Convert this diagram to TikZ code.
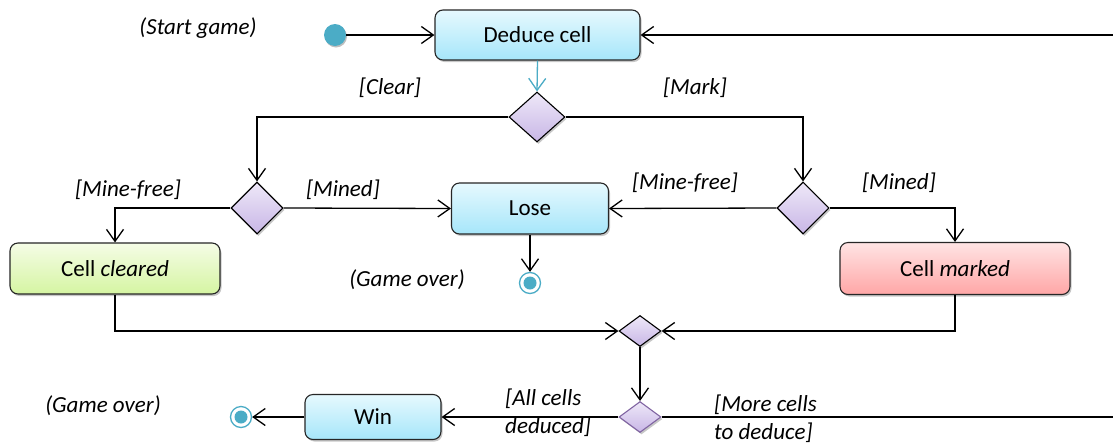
\documentclass[tikz,border=0pt]{standalone}
\usepackage{fontspec}
\setmainfont{Carlito}
\usetikzlibrary{arrows.meta,shapes.geometric,shadows}
\definecolor{teal}{HTML}{4BACC6}
\definecolor{cyanTop}{HTML}{E6F9FE}
\definecolor{cyanBot}{HTML}{A6E6FA}
\definecolor{greenTop}{HTML}{F5FCE6}
\definecolor{greenBot}{HTML}{D5F5A2}
\definecolor{redTop}{HTML}{FFE4E4}
\definecolor{redBot}{HTML}{FFA6A6}
\definecolor{lilacTop}{HTML}{EEE8F8}
\definecolor{lilacBot}{HTML}{C8B6E6}
\definecolor{lilacEdge}{HTML}{8064A2}
\tikzset{
  x=1pt, y=-1pt,
  every node/.style={font=\fontsize{23}{28}\selectfont},
  softshadow/.style={drop shadow={shadow xshift=1.5pt, shadow yshift=-2pt, opacity=0.22, fill=black}},
  action/.style={draw=black!85, line width=1.1pt, rounded corners=8pt, inner sep=0pt, softshadow},
  bluebox/.style={action, top color=cyanTop, bottom color=cyanBot},
  greenbox/.style={action, top color=greenTop, bottom color=greenBot},
  redbox/.style={action, top color=redTop, bottom color=redBot},
  choice/.style={diamond, draw=black, line width=1.1pt, inner sep=0pt, top color=lilacTop, bottom color=lilacBot, softshadow},
  guard/.style={font=\fontsize{23}{28}\selectfont\itshape, inner sep=0pt},
  flow/.style={line width=1.3pt, -{Straight Barb[length=12pt,width=17pt,line width=1.3pt]}},
}
\begin{document}
\begin{tikzpicture}
\useasboundingbox (0,0) rectangle (1113,445);
\clip (0,0) rectangle (1113,445);
\fill[white] (0,0) rectangle (1113,445);

% actions
\node[bluebox, minimum width=205pt, minimum height=50pt] (deduce) at (537.5,35) {Deduce cell};
\node[bluebox, minimum width=157pt, minimum height=51pt] (lose) at (530,208.5) {Lose};
\node[bluebox, minimum width=136pt, minimum height=45pt] (win) at (373,417) {Win};
\node[greenbox, minimum width=210pt, minimum height=51pt] (cleared) at (115,268.5) {Cell \textit{cleared}};
\node[redbox, minimum width=230pt, minimum height=52pt] (marked) at (955,268.5) {Cell \textit{marked}};

% decisions and merges
\node[choice, minimum width=56pt, minimum height=50pt] (d1) at (537,117) {};
\node[choice, minimum width=52pt, minimum height=52pt] (d2) at (257,208) {};
\node[choice, minimum width=52pt, minimum height=52pt] (d3) at (803,208) {};
\node[choice, minimum width=42pt, minimum height=31pt] (d4) at (640,331) {};
\node[choice, draw=lilacEdge, minimum width=42pt, minimum height=31pt] (d5) at (640,417) {};

% initial and final nodes
\node[circle, fill=teal, minimum size=22pt, inner sep=0pt, drop shadow={shadow xshift=1pt, shadow yshift=-1.5pt, opacity=0.25, fill=black}] (start) at (335,35) {};
\node[circle, draw=teal, line width=1.3pt, fill=white, minimum size=21pt, inner sep=0pt] (end1) at (530,283) {};
\fill[teal] (end1.center) circle (6.5pt);
\node[circle, draw=teal, line width=1.3pt, fill=white, minimum size=21pt, inner sep=0pt] (end2) at (241,417) {};
\fill[teal] (end2.center) circle (6.5pt);

% loop back to the start of a move
\coordinate (loopR) at (1130,417);

% flows
\draw[flow] (start) -- (deduce.west);
\draw[flow] (d5.east) -- (loopR) |- (deduce.east);
\draw[flow, draw=teal] (deduce.south) -- (d1.north);
\draw[flow] (d1.west) -| (d2.north);
\draw[flow] (d1.east) -| (d3.north);
\draw[flow] (d2.east) -- (lose.west);
\draw[flow] (d2.west) -| (cleared.north);
\draw[flow] (d3.west) -- (lose.east);
\draw[flow] (d3.east) -| (marked.north);
\draw[flow] (lose.south) -- (end1.north);
\draw[flow] (cleared.south) |- (d4.west);
\draw[flow] (marked.south) |- (d4.east);
\draw[flow] (d4.south) -- (d5.north);
\draw[flow] (d5.west) -- (win.east);
\draw[flow] (win.west) -- (end2.east);

% guards and notes
\node[guard] (tStart) at (198,28) {(Start game)};
\node[guard] (tClear) at (390,88) {[Clear]};
\node[guard] (tMark) at (695,88) {[Mark]};
\node[guard] (tFreeL) at (128,190) {[Mine-free]};
\node[guard] (tMinedL) at (343,190) {[Mined]};
\node[guard] (tFreeR) at (685,183) {[Mine-free]};
\node[guard] (tMinedR) at (899,183) {[Mined]};
\node[guard] (tOver1) at (407,280) {(Game over)};
\node[guard] (tOver2) at (103,406) {(Game over)};
\node[guard, align=left, anchor=west] (tAll) at (505,413) {[All cells\\deduced]};
\node[guard, align=left, anchor=west] (tMore) at (714,419) {[More cells\\to deduce]};
\end{tikzpicture}
\end{document}
